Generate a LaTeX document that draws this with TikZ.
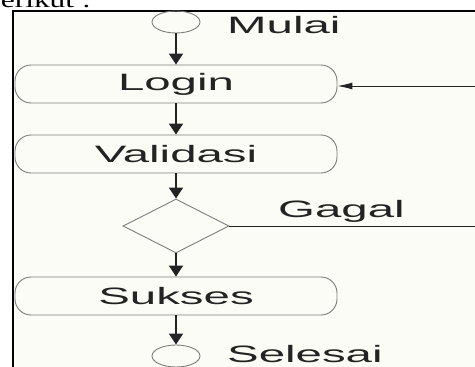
\documentclass[tikz,border=0pt]{standalone}
\usepackage{graphicx}
\usepackage{fontspec}
\setmainfont{Liberation Serif}
\setsansfont{Liberation Sans}
\usetikzlibrary{shapes.geometric,arrows.meta}
\definecolor{kertas}{RGB}{252,252,247}
\definecolor{garis}{RGB}{125,125,125}
\definecolor{tinta}{RGB}{35,35,35}
\newcommand{\lebar}[1]{\scalebox{2}[1]{#1}}
\begin{document}
\begin{tikzpicture}[x=1pt,y=-1pt,
  proses/.style={draw=garis,line width=0.9pt,rounded corners=16pt,
    minimum width=322pt,minimum height=38pt,inner sep=0pt,
    font=\sffamily\fontsize{23.7}{24}\selectfont,text=tinta},
  bulat/.style={ellipse,draw=garis,line width=0.9pt,
    minimum width=48pt,minimum height=22pt,inner sep=0pt},
  keputusan/.style={diamond,draw=garis,line width=0.9pt,
    minimum width=106pt,minimum height=54pt,inner sep=0pt},
  teks/.style={inner sep=0pt,font=\sffamily\fontsize{23.7}{24}\selectfont,text=tinta},
  panah/.style={draw=tinta,line width=1.8pt,-{Triangle[length=11pt,width=14pt]}},
  balik/.style={draw=tinta,line width=1pt,-{Latex[length=15pt,width=7pt]}},
  cabang/.style={draw=tinta,line width=1pt}]

\useasboundingbox (0,0) rectangle (475,367);
\clip (0,0) rectangle (475,367);
\fill[white] (0,0) rectangle (475,367);
\fill[kertas] (13,11) rectangle (475,367);

\node[anchor=base east,inner sep=0pt,font=\rmfamily\fontsize{22}{24}\selectfont]
  (judul) at (91,7) {\scalebox{1.43}[1]{berikut :}};

\draw[line width=2pt] (13,367) -- (13,11) -- (475,11);

\node[bulat] (mulai) at (176,22) {};
\node[teks,anchor=base west] (lmulai) at (227,33) {\lebar{Mulai}};

\node[proses] (login) at (176,84) {\lebar{Login}};

\node[proses] (validasi) at (176,154) {\lebar{Validasi}};

\node[keputusan] (cek) at (176,226) {};
\node[teks,anchor=base west] (lgagal) at (278,217) {\lebar{Gagal}};

\node[proses] (sukses) at (176,296) {\lebar{Sukses}};

\node[bulat] (selesai) at (176,356) {};
\node[teks,anchor=base west] (lselesai) at (227,362) {\lebar{Selesai}};

\coordinate (kanan1) at (476,86);
\coordinate (kanan2) at (476,227);

\draw[panah] (mulai) -- (login);
\draw[panah] (login) -- (validasi);
\draw[panah] (validasi) -- (cek);
\draw[panah] (cek) -- (sukses);
\draw[panah] (sukses) -- (selesai);

\draw[balik] (kanan1) -- (kanan1 -| login.east);
\draw[cabang] (cek.east) -- (kanan2 |- cek.east);

\end{tikzpicture}
\end{document}
